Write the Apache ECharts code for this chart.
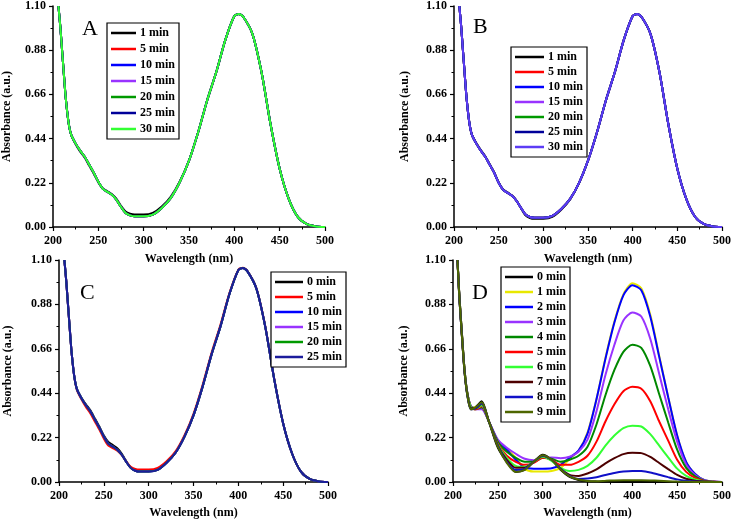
<!DOCTYPE html>
<html>
<head>
<meta charset="utf-8">
<script src="https://cdn.jsdelivr.net/npm/echarts@6.0.0/dist/echarts.min.js"></script>
<style>
  html, body { margin: 0; padding: 0; background: #fff; }
  #main { width: 734px; height: 523px; }
</style>
</head>
<body>
<div id="main"></div>
<script>
// wavelengths (nm) for panels A, B, C
const wlABC = [206, 208, 210, 212, 214, 217, 220, 225, 230, 235, 240, 245, 250, 255, 260, 265, 270, 275, 280, 285, 290, 300, 310, 320, 330, 340, 350, 360, 370, 380, 390, 400, 405, 410, 420, 430, 440, 450, 460, 470, 480, 490, 500];

// panel A absorbance
const absA = [1.10, 1.00, 0.88, 0.76, 0.645, 0.525, 0.46, 0.415, 0.38, 0.35, 0.31, 0.27, 0.225, 0.19, 0.175, 0.16, 0.135, 0.10, 0.07, 0.058, 0.053, 0.053, 0.062, 0.095, 0.145, 0.225, 0.33, 0.47, 0.63, 0.77, 0.93, 1.05, 1.06, 1.045, 0.96, 0.77, 0.51, 0.29, 0.14, 0.05, 0.014, 0.003, 0];
const absA1 = [1.10, 1.00, 0.88, 0.76, 0.645, 0.525, 0.46, 0.412, 0.375, 0.345, 0.305, 0.265, 0.222, 0.192, 0.178, 0.163, 0.14, 0.105, 0.077, 0.066, 0.062, 0.062, 0.07, 0.102, 0.152, 0.228, 0.33, 0.47, 0.63, 0.77, 0.93, 1.05, 1.06, 1.045, 0.96, 0.77, 0.51, 0.29, 0.14, 0.05, 0.014, 0.003, 0];

// panel B absorbance
const absB = [1.10, 1.00, 0.88, 0.76, 0.645, 0.525, 0.46, 0.415, 0.38, 0.35, 0.31, 0.27, 0.22, 0.185, 0.17, 0.155, 0.13, 0.095, 0.062, 0.05, 0.046, 0.046, 0.055, 0.09, 0.14, 0.22, 0.33, 0.47, 0.63, 0.77, 0.93, 1.05, 1.06, 1.045, 0.96, 0.77, 0.51, 0.29, 0.14, 0.05, 0.014, 0.003, 0];
const absB1 = [1.10, 1.00, 0.88, 0.76, 0.645, 0.525, 0.46, 0.418, 0.383, 0.352, 0.312, 0.272, 0.222, 0.187, 0.172, 0.157, 0.132, 0.093, 0.058, 0.045, 0.041, 0.041, 0.05, 0.086, 0.137, 0.218, 0.33, 0.47, 0.63, 0.77, 0.93, 1.05, 1.06, 1.045, 0.96, 0.77, 0.51, 0.29, 0.14, 0.05, 0.014, 0.003, 0];

// panel C absorbance
const absC = [1.10, 1.00, 0.88, 0.76, 0.645, 0.525, 0.46, 0.415, 0.38, 0.35, 0.31, 0.27, 0.225, 0.19, 0.175, 0.16, 0.135, 0.10, 0.07, 0.056, 0.052, 0.052, 0.06, 0.095, 0.145, 0.225, 0.33, 0.47, 0.63, 0.77, 0.93, 1.05, 1.06, 1.045, 0.96, 0.77, 0.51, 0.29, 0.14, 0.05, 0.014, 0.003, 0];
const absC0 = [1.10, 1.00, 0.88, 0.76, 0.645, 0.525, 0.46, 0.418, 0.385, 0.355, 0.315, 0.275, 0.23, 0.198, 0.183, 0.167, 0.14, 0.103, 0.072, 0.058, 0.054, 0.054, 0.062, 0.097, 0.147, 0.226, 0.33, 0.47, 0.63, 0.77, 0.93, 1.05, 1.06, 1.045, 0.96, 0.77, 0.51, 0.29, 0.14, 0.05, 0.014, 0.003, 0];
const absC5 = [1.10, 1.00, 0.88, 0.76, 0.645, 0.525, 0.455, 0.41, 0.372, 0.34, 0.3, 0.26, 0.215, 0.18, 0.168, 0.155, 0.133, 0.102, 0.075, 0.065, 0.062, 0.062, 0.07, 0.103, 0.152, 0.232, 0.338, 0.478, 0.638, 0.778, 0.935, 1.052, 1.062, 1.047, 0.962, 0.772, 0.512, 0.29, 0.14, 0.05, 0.014, 0.003, 0];

const timesA = ['1 min', '5 min', '10 min', '15 min', '20 min', '25 min', '30 min'];
const timesB = ['1 min', '5 min', '10 min', '15 min', '20 min', '25 min', '30 min'];
const timesC = ['0 min', '5 min', '10 min', '15 min', '20 min', '25 min'];

// panel D
const wlD = [205, 207, 210, 213, 216, 220, 225, 232, 240, 250, 260, 270, 280, 290, 300, 310, 320, 330, 340, 350, 360, 370, 380, 390, 400, 410, 420, 430, 440, 450, 460, 470, 480, 490, 500];
const d0 = [1.10, 0.92, 0.72, 0.54, 0.43, 0.36, 0.37, 0.40, 0.30, 0.17, 0.10, 0.05, 0.06, 0.10, 0.135, 0.11, 0.06, 0.025, 0.01, 0.004, 0.002, 0.001, 0, 0, 0, 0, 0, 0, 0, 0, 0, 0, 0, 0, 0];
const d1 = [1.10, 0.93, 0.73, 0.55, 0.44, 0.375, 0.37, 0.37, 0.30, 0.20, 0.165, 0.12, 0.065, 0.052, 0.052, 0.055, 0.07, 0.115, 0.155, 0.245, 0.41, 0.615, 0.795, 0.93, 0.985, 0.96, 0.83, 0.625, 0.42, 0.23, 0.10, 0.04, 0.01, 0.002, 0];
const d2 = [1.10, 0.93, 0.73, 0.55, 0.44, 0.375, 0.365, 0.365, 0.30, 0.205, 0.16, 0.11, 0.072, 0.066, 0.066, 0.068, 0.085, 0.12, 0.155, 0.24, 0.41, 0.61, 0.79, 0.925, 0.975, 0.95, 0.82, 0.62, 0.42, 0.23, 0.10, 0.04, 0.01, 0.002, 0];
const d3 = [1.10, 0.93, 0.73, 0.55, 0.44, 0.375, 0.36, 0.36, 0.30, 0.21, 0.17, 0.14, 0.115, 0.108, 0.12, 0.122, 0.118, 0.125, 0.15, 0.21, 0.35, 0.53, 0.68, 0.80, 0.84, 0.82, 0.71, 0.535, 0.36, 0.20, 0.087, 0.035, 0.009, 0.002, 0];
const d4 = [1.10, 0.93, 0.73, 0.55, 0.44, 0.37, 0.36, 0.37, 0.30, 0.20, 0.15, 0.12, 0.10, 0.10, 0.12, 0.115, 0.10, 0.11, 0.13, 0.175, 0.285, 0.43, 0.555, 0.645, 0.68, 0.665, 0.575, 0.435, 0.295, 0.16, 0.07, 0.028, 0.007, 0.001, 0];
const d5 = [1.10, 0.93, 0.73, 0.55, 0.44, 0.37, 0.36, 0.375, 0.30, 0.19, 0.13, 0.10, 0.085, 0.095, 0.12, 0.11, 0.085, 0.085, 0.10, 0.13, 0.20, 0.30, 0.385, 0.45, 0.472, 0.462, 0.40, 0.30, 0.205, 0.11, 0.05, 0.02, 0.005, 0.001, 0];
const d6 = [1.10, 0.93, 0.73, 0.55, 0.44, 0.37, 0.365, 0.38, 0.30, 0.185, 0.12, 0.08, 0.075, 0.10, 0.125, 0.105, 0.07, 0.055, 0.06, 0.08, 0.12, 0.18, 0.23, 0.267, 0.279, 0.275, 0.237, 0.18, 0.122, 0.066, 0.03, 0.012, 0.003, 0.001, 0];
const d7 = [1.10, 0.92, 0.72, 0.54, 0.435, 0.365, 0.365, 0.39, 0.30, 0.18, 0.11, 0.07, 0.07, 0.10, 0.13, 0.11, 0.065, 0.035, 0.03, 0.042, 0.062, 0.092, 0.118, 0.138, 0.145, 0.143, 0.124, 0.094, 0.064, 0.035, 0.016, 0.006, 0.002, 0, 0];
const d8 = [1.10, 0.92, 0.72, 0.54, 0.43, 0.36, 0.365, 0.39, 0.30, 0.18, 0.10, 0.06, 0.065, 0.10, 0.13, 0.11, 0.065, 0.03, 0.015, 0.017, 0.024, 0.035, 0.045, 0.052, 0.055, 0.054, 0.047, 0.036, 0.024, 0.013, 0.006, 0.002, 0.001, 0, 0];
const d9 = [1.10, 0.92, 0.72, 0.54, 0.43, 0.36, 0.37, 0.395, 0.30, 0.175, 0.095, 0.05, 0.06, 0.10, 0.133, 0.11, 0.062, 0.028, 0.012, 0.005, 0.004, 0.006, 0.008, 0.009, 0.009, 0.009, 0.008, 0.006, 0.004, 0.002, 0.001, 0, 0, 0, 0];
const timesD = ['0 min', '1 min', '2 min', '3 min', '4 min', '5 min', '6 min', '7 min', '8 min', '9 min'];

const colorsA = ['#000000', '#ff0000', '#0000ff', '#9933ff', '#009900', '#000099', '#33ff33'];
const colorsB = ['#000000', '#ff0000', '#0000ff', '#9933ff', '#009900', '#000099', '#5c3cf5'];
const colorsC = ['#000000', '#ff0000', '#0000ff', '#9933ff', '#009900', '#1c1c9c'];
const colorsD = ['#000000', '#e8e800', '#0000ff', '#9933ff', '#008800', '#ff0000', '#33ff33', '#4d0000', '#1010c8', '#4d6600'];

const serif = 'Liberation Serif, Times New Roman, serif';
const chart = echarts.init(document.getElementById('main'), null, { renderer: 'canvas' });

function makeSeries(names, colors, valueLists, xs, idx) {
  return names.map((n, i) => ({
    name: n,
    type: 'line',
    xAxisIndex: idx,
    yAxisIndex: idx,
    data: xs.map((x, j) => [x, valueLists[i][j]]),
    showSymbol: false,
    symbol: 'none',
    smooth: 0.25,
    lineStyle: { color: colors[i], width: 2 },
    itemStyle: { color: colors[i] }
  }));
}

function makeLegend(names, colors, left, top, gap, iconW) {
  return {
    orient: 'vertical',
    left: left,
    top: top,
    selectedMode: false,
    icon: 'rect',
    itemWidth: iconW,
    itemHeight: 2.5,
    itemGap: gap,
    padding: [3, 4],
    borderColor: '#000',
    borderWidth: 1.2,
    backgroundColor: '#fff',
    data: names.map((n, i) => ({ name: n, itemStyle: { color: colors[i] } })),
    textStyle: { fontFamily: serif, fontWeight: 'bold', fontSize: 12, lineHeight: 14, color: '#000', padding: [0, 0, 0, -1] }
  };
}

function makeX(idx, gap) {
  return {
    gridIndex: idx,
    type: 'value',
    min: 200, max: 500, interval: 50,
    name: 'Wavelength (nm)',
    nameLocation: 'middle',
    nameGap: gap,
    nameTextStyle: { fontFamily: serif, fontWeight: 'bold', fontSize: 12, color: '#000' },
    axisLine: { show: true, onZero: false, lineStyle: { color: '#000', width: 1.5 } },
    axisTick: { show: true, inside: false, length: 4, lineStyle: { color: '#000', width: 1.2 } },
    minorTick: { show: true, splitNumber: 2, length: 2.5, lineStyle: { color: '#000', width: 1 } },
    splitLine: { show: false },
    axisLabel: { fontFamily: serif, fontWeight: 'bold', fontSize: 12, color: '#000', margin: 8 }
  };
}

function makeY(idx, gap) {
  return {
    gridIndex: idx,
    type: 'value',
    min: 0, max: 1.1, interval: 0.22,
    name: 'Absorbance (a.u.)',
    nameLocation: 'middle',
    nameGap: gap,
    nameTextStyle: { fontFamily: serif, fontWeight: 'bold', fontSize: 12, color: '#000' },
    axisLine: { show: true, onZero: false, lineStyle: { color: '#000', width: 1.5 } },
    axisTick: { show: true, inside: false, length: 4, lineStyle: { color: '#000', width: 1.2 } },
    minorTick: { show: true, splitNumber: 2, length: 2.5, lineStyle: { color: '#000', width: 1 } },
    splitLine: { show: false },
    axisLabel: { fontFamily: serif, fontWeight: 'bold', fontSize: 12, color: '#000', margin: 7, formatter: v => v.toFixed(2) }
  };
}

function letter(t, left, top) {
  return { text: t, left: left, top: top, padding: 0, textStyle: { fontFamily: serif, fontWeight: 'normal', fontSize: 22, color: '#000' } };
}

const option = {
  animation: false,
  backgroundColor: '#fff',
  title: [letter('A', 82, 18), letter('B', 473, 16), letter('C', 80, 282), letter('D', 472, 282)],
  grid: [
    { left: 53, top: 6, width: 272, height: 221 },
    { left: 454, top: 6, width: 270, height: 221 },
    { left: 59, top: 260, width: 269, height: 222 },
    { left: 453, top: 260, width: 271, height: 222 }
  ],
  xAxis: [makeX(0, 26), makeX(1, 26), makeX(2, 25), makeX(3, 25)],
  yAxis: [makeY(0, 40), makeY(1, 43), makeY(2, 45), makeY(3, 43)],
  legend: [
    makeLegend(timesA, colorsA, 107, 23, 2, 25),
    makeLegend(timesB, colorsB, 511, 47, 1, 29),
    makeLegend(timesC, colorsC, 271, 272, 1, 28),
    makeLegend(timesD, colorsD, 501, 267, 1, 28)
  ],
  series: [].concat(
    makeSeries(timesA, colorsA, [absA1, absA, absA, absA, absA, absA, absA], wlABC, 0),
    makeSeries(timesB, colorsB, [absB1, absB, absB, absB, absB, absB, absB], wlABC, 1),
    makeSeries(timesC, colorsC, [absC0, absC5, absC, absC, absC, absC], wlABC, 2),
    makeSeries(timesD, colorsD, [d0, d1, d2, d3, d4, d5, d6, d7, d8, d9], wlD, 3)
  )
};

chart.setOption(option);
</script>
</body>
</html>
